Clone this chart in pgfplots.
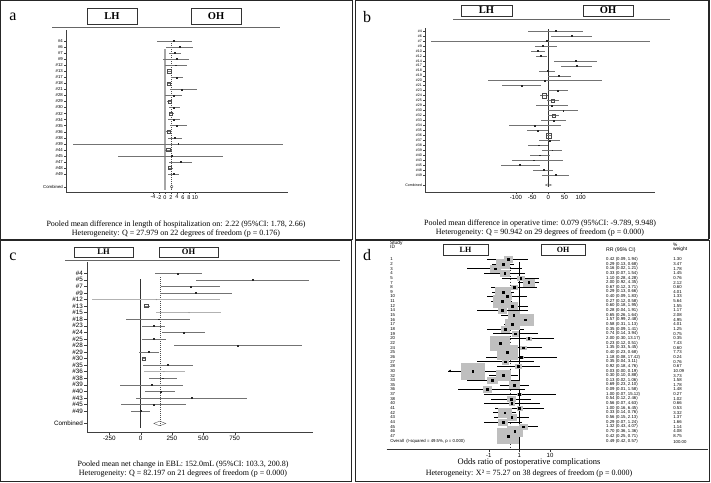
\documentclass[border=0pt]{standalone}
\usepackage{pgfplots}
\pgfplotsset{compat=1.18}
\usepackage{pgfplotstable}
\usepackage{fontspec}
\setmainfont{Liberation Serif}
\newfontfamily\lsans{Liberation Sans}
\usetikzlibrary{arrows.meta}
\newcommand\fs[1]{\fontsize{#1}{#1}\selectfont}

% ---------- panel a: length of hospitalization ----------
\pgfplotstableread{
i lo m hi t
0 -2.8 2.8 8.9 p
1 0.3 5.0 9.2 p
2 1.4 3.2 5.3 p
3 -0.6 3.9 8.1 p
4 0.1 3.7 7.2 p
5 0.6 1.4 2.3 s
6 1.9 3.9 5.9 p
7 0.6 1.2 2.1 s
8 1.7 5.7 10.6 p
9 0.1 2.8 5.6 p
10 0.8 1.6 2.3 s
11 1.4 3.0 5.0 p
12 1.2 2.0 3.0 s
13 1.1 2.8 5.0 p
14 1.7 3.9 7.2 p
15 0.3 1.3 2.3 s
16 1.1 3.3 5.6 p
17 -30.6 4.4 39.2 p
18 0.1 1.1 2.3 s
19 -15.6 2.2 19.4 p
20 1.4 5.3 8.9 p
21 1.1 1.7 2.8 s
22 1.1 2.8 4.8 p
}\taba

% ---------- panel b: operative time ----------
\pgfplotstableread{
i lo m hi t
0 -62 24 108 p
1 8 72 136 p
2 -363 -5 314 p
3 -41 -18 26 p
4 -54 -32 -10 p
5 -39 -23 -5 p
6 19 85 149 p
7 39 88 136 p
8 -28 -3 21 p
9 0 33 70 p
10 -186 -10 165 p
11 -142 -82 -24 p
12 0 30 60 p
13 -26 -13 -2 S
14 -5 14 33 s
15 -38 11 60 p
16 0 46 91 p
17 0 16 33 s
18 -23 16 54 p
19 -122 -41 38 p
20 -67 -33 0 p
21 -5 2 10 S
22 -28 3 36 p
23 -64 -31 0 p
24 -19 12 41 p
25 -57 -26 5 p
26 -113 -46 46 p
27 -147 -88 -26 p
28 -46 -15 15 p
29 -21 22 64 p
}\tabb

% ---------- panel c: EBL ----------
\pgfplotstableread{
i lo m hi t
0 112 298 489 p
1 444 896 1343 p
2 160 396 636 p
3 152 436 729 p
5 24 45 77 s
7 -114 141 396 p
8 13 104 197 p
9 173 340 511 p
10 11 104 200 p
11 263 777 1287 p
12 -13 64 146 p
13 8 24 40 s
14 19 218 418 p
16 66 178 290 p
17 -162 88 338 p
18 37 157 277 p
19 -40 404 849 p
20 -154 104 364 p
21 -74 0 77 p
}\tabc
\pgfplotstableread{
i lo m hi
4 -386 125 630
6 125 386 644
15 24 186 356
}\tabcl

% ---------- panel d: postoperative complications (RR, lo, hi) ----------
\pgfplotstableread[col sep=semicolon]{
i;lo;m;hi;w;id;rr;wt
0;0.09;0.42;1.94;1.30;1;0.42 (0.09, 1.94);1.30
1;0.13;0.29;0.68;3.47;2;0.29 (0.13, 0.68);3.47
2;0.02;0.16;1.21;1.78;3;0.16 (0.02, 1.21);1.78
3;0.07;0.33;1.54;1.45;4;0.33 (0.07, 1.54);1.45
4;0.28;1.10;4.28;0.76;5;1.10 (0.28, 4.28);0.76
5;0.92;2.00;4.35;2.12;7;2.00 (0.92, 4.35);2.12
6;0.12;0.67;3.71;0.60;8;0.67 (0.12, 3.71);0.60
7;0.13;0.29;0.66;4.01;9;0.29 (0.13, 0.66);4.01
8;0.09;0.40;1.83;1.33;10;0.40 (0.09, 1.83);1.33
9;0.12;0.27;0.58;5.64;11;0.27 (0.12, 0.58);5.64
10;0.18;0.60;1.95;1.55;12;0.60 (0.18, 1.95);1.55
11;0.04;0.28;1.91;1.17;14;0.28 (0.04, 1.91);1.17
12;0.26;0.65;1.64;2.08;15;0.65 (0.26, 1.64);2.08
13;0.99;1.57;2.48;4.95;16;1.57 (0.99, 2.48);4.95
14;0.31;0.58;1.13;4.01;17;0.58 (0.31, 1.13);4.01
15;0.09;0.35;1.41;1.25;18;0.35 (0.09, 1.41);1.25
16;0.14;0.74;3.94;0.75;19;0.74 (0.14, 3.94);0.75
17;0.30;2.00;13.17;0.35;20;2.00 (0.30, 13.17);0.35
18;0.12;0.23;0.51;7.43;22;0.23 (0.12, 0.51);7.43
19;0.33;1.35;5.45;0.60;24;1.35 (0.33, 5.45);0.60
20;0.23;0.40;0.68;7.73;25;0.40 (0.23, 0.68);7.73
21;0.08;1.18;17.42;0.24;26;1.18 (0.08, 17.42);0.24
22;0.04;0.35;3.11;0.76;27;0.35 (0.04, 3.11);0.76
23;0.18;0.92;4.76;0.67;28;0.92 (0.18, 4.76);0.67
24;0.0048;0.03;0.19;10.09;30;0.03 (0.00, 0.19);10.09
25;0.10;0.30;0.88;3.73;32;0.30 (0.10, 0.88);3.73
26;0.02;0.13;1.06;1.58;33;0.13 (0.02, 1.06);1.58
27;0.23;0.69;2.10;1.78;35;0.69 (0.23, 2.10);1.78
28;0.01;0.09;1.58;1.48;36;0.09 (0.01, 1.58);1.48
29;0.07;1.00;15.12;0.27;37;1.00 (0.07, 15.12);0.27
30;0.12;0.54;2.46;1.02;38;0.54 (0.12, 2.46);1.02
31;0.07;0.56;4.63;0.66;40;0.56 (0.07, 4.63);0.66
32;0.16;1.00;6.45;0.53;41;1.00 (0.16, 6.45);0.53
33;0.14;0.33;0.76;3.32;42;0.33 (0.14, 0.76);3.32
34;0.15;0.56;2.13;1.37;43;0.56 (0.15, 2.13);1.37
35;0.07;0.29;1.24;1.66;44;0.29 (0.07, 1.24);1.66
36;0.43;1.32;4.07;1.14;45;1.32 (0.43, 4.07);1.14
37;0.36;0.70;1.36;4.08;46;0.70 (0.36, 1.36);4.08
38;0.25;0.42;0.71;8.75;47;0.42 (0.25, 0.71);8.75
}\tabd

\pgfplotsset{
  forest/.style={scale only axis, anchor=south west, axis lines*=left,
    axis line style={black!75, line width=0.4pt},
    tick style={black!75, line width=0.3pt}, tick align=outside,
    major tick length=2pt, clip=false,
    every tick label/.append style={inner sep=1pt}},
  ci/.style={scatter, only marks, scatter src=explicit symbolic,
    scatter/classes={p={mark=square*, mark size=0.45pt, black!85},
                     s={mark=square, mark size=1.6pt, black!70},
                     S={mark=square, mark size=2.4pt, black!70}},
    error bars/.cd, x dir=both, x explicit, error mark=none,
    error bar style={black!55, line width=0.35pt}},
  dtext/.style={only marks, mark=none, nodes near coords, point meta=explicit symbolic,
    nodes near coords style={anchor=west, font=\lsans\fs{4.3}, inner sep=0pt}},
}

\begin{document}
\begin{tikzpicture}
% ---------- frames ----------
\draw[black!85, line width=0.7pt] (0.5pt,243pt) rectangle (352.5pt,481.5pt);
\draw[black!85, line width=0.7pt] (355.5pt,243pt) rectangle (708.5pt,481.5pt);
\draw[black!85, line width=1.8pt] (709pt,243pt) -- (709pt,481.5pt);
\draw[black!85, line width=0.7pt] (0.5pt,0.5pt) rectangle (351.5pt,241.5pt);
\draw[black!85, line width=0.7pt] (355.5pt,0.5pt) rectangle (709.5pt,241.5pt);
\draw[black!85, line width=1.8pt] (709.5pt,0.5pt) -- (709.5pt,241.5pt);

% ---------- panel a ----------
\node[font=\fs{16}] at (13pt,465pt) {a};
\draw[black!80, line width=0.7pt] (87pt,458pt) rectangle (137pt,474pt);
\draw[black!80, line width=0.7pt] (191pt,458pt) rectangle (241pt,474pt);
\node[font=\bfseries\fs{10.5}] at (112pt,466pt) {LH};
\node[font=\bfseries\fs{10.5}] at (216pt,466pt) {OH};
\draw[black!60, line width=0.8pt] (52pt,455pt) -- (280pt,455pt);
\begin{axis}[forest, at={(66pt,290pt)}, width=222pt, height=162pt,
  xmin=-33, xmax=41, ymin=-24.98, ymax=1.82,
  xtick={-4,-2,0,2,4,6,8,10}, xticklabels={-4,-2,0,2,4,6,8,10},
  xticklabel style={font=\lsans\fs{5.5}},
  ytick={0,-1,-2,-3,-4,-5,-6,-7,-8,-9,-10,-11,-12,-13,-14,-15,-16,-17,-18,-19,-20,-21,-22,-24.1},
  yticklabels={\#4,\#6,\#7,\#9,\#12,\#13,\#17,\#18,\#21,\#28,\#29,\#30,\#32,\#34,\#35,\#36,\#38,\#39,\#44,\#45,\#47,\#48,\#49,Combined},
  yticklabel style={font=\lsans\fs{4.3}}]
\addplot[black!35, line width=1.6pt] coordinates {(0,-1.3) (0,-24.6)};
\addplot[black!70, line width=0.4pt, dash pattern=on 1pt off 1pt] coordinates {(2.22,-0.4) (2.22,-24.6)};
\addplot[ci] table[x=m, y expr=-\thisrow{i}, meta=t,
  x error minus expr=\thisrow{m}-\thisrow{lo}, x error plus expr=\thisrow{hi}-\thisrow{m}] {\taba};
\addplot[black!70, line width=0.35pt] coordinates {(1.78,-24.1) (2.22,-23.8) (2.66,-24.1) (2.22,-24.4) (1.78,-24.1)};
\end{axis}
\node[font=\fs{8}] at (176pt,257pt) {Pooled mean difference in length of hospitalization on: 2.22 (95\%CI: 1.78, 2.66)};
\node[font=\fs{8}] at (176pt,248.5pt) {Heterogeneity: Q = 27.979 on 22 degrees of freedom (p = 0.176)};

% ---------- panel b ----------
\node[font=\fs{16}] at (367pt,465pt) {b};
\draw[black!80, line width=0.7pt] (461pt,466pt) rectangle (512pt,477pt);
\draw[black!80, line width=0.7pt] (583pt,466pt) rectangle (633pt,477pt);
\node[font=\bfseries\fs{10.5}] at (486.5pt,471.5pt) {LH};
\node[font=\bfseries\fs{10.5}] at (608pt,471.5pt) {OH};
\draw[black!60, line width=0.8pt] (453pt,462.7pt) -- (670pt,462.7pt);
\begin{axis}[forest, at={(425pt,290pt)}, width=230pt, height=164pt,
  xmin=-381.4, xmax=329.9, ymin=-32.41, ymax=0.6,
  xtick={-100,-50,0,50,100}, xticklabels={-100,-50,0,50,100},
  xticklabel style={font=\lsans\fs{6}},
  ytick={0,-1,-2,-3,-4,-5,-6,-7,-8,-9,-10,-11,-12,-13,-14,-15,-16,-17,-18,-19,-20,-21,-22,-23,-24,-25,-26,-27,-28,-29,-31},
  yticklabels={\#4,\#6,\#7,\#9,\#10,\#12,\#14,\#17,\#18,\#19,\#20,\#21,\#23,\#24,\#25,\#29,\#30,\#32,\#33,\#34,\#35,\#36,\#37,\#38,\#39,\#40,\#43,\#45,\#48,\#49,Combined},
  yticklabel style={font=\lsans\fs{3.6}}]
\addplot[black!80, line width=0.4pt] coordinates {(0,0.3) (0,-31.4)};
\addplot[ci] table[x=m, y expr=-\thisrow{i}, meta=t,
  x error minus expr=\thisrow{m}-\thisrow{lo}, x error plus expr=\thisrow{hi}-\thisrow{m}] {\tabb};
\addplot[black!70, line width=0.35pt] coordinates {(-9.789,-31) (0.079,-30.75) (9.948,-31) (0.079,-31.25) (-9.789,-31)};
\end{axis}
\node[font=\fs{8}] at (540pt,258pt) {Pooled mean difference in operative time: 0.079 (95\%CI: -9.789, 9.948)};
\node[font=\fs{8}] at (540pt,249pt) {Heterogeneity: Q = 90.942 on 29 degrees of freedom (p = 0.000)};

% ---------- panel c ----------
\node[font=\fs{16}] at (13pt,225pt) {c};
\draw[black!80, line width=0.7pt] (74pt,225pt) rectangle (133pt,235pt);
\draw[black!80, line width=0.7pt] (159pt,225pt) rectangle (218pt,235pt);
\node[font=\bfseries\fs{8.5}] at (103.5pt,230pt) {LH};
\node[font=\bfseries\fs{8.5}] at (188.5pt,230pt) {OH};
\draw[black!60, line width=0.8pt] (65pt,221.3pt) -- (340pt,221.3pt);
\begin{axis}[forest, at={(87pt,50.3pt)}, width=226pt, height=170pt,
  xmin=-428, xmax=1375, ymin=-24.16, ymax=1.77,
  xtick={-250,0,250,500,750}, xticklabels={-250,0,250,500,750},
  xticklabel style={font=\lsans\fs{6.3}},
  ytick={0,-1,-2,-3,-4,-5,-6,-7,-8,-9,-10,-11,-12,-13,-14,-15,-16,-17,-18,-19,-20,-21,-22.9},
  yticklabels={\#4,\#5,\#7,\#9,\#12,\#13,\#15,\#18,\#23,\#24,\#25,\#28,\#29,\#30,\#35,\#36,\#38,\#39,\#40,\#43,\#45,\#49,Combined},
  yticklabel style={font=\lsans\fs{6.3}}, major tick length=3pt]
\addplot[black!80, line width=0.45pt] coordinates {(0,-0.9) (0,-23.6)};
\addplot[black!70, line width=0.4pt, dash pattern=on 1pt off 1pt] coordinates {(152,-0.6) (152,-23.4)};
\addplot[ci] table[x=m, y expr=-\thisrow{i}, meta=t,
  x error minus expr=\thisrow{m}-\thisrow{lo}, x error plus expr=\thisrow{hi}-\thisrow{m}] {\tabc};
\addplot[only marks, mark=*, mark size=0.3pt, black!45,
  error bars/.cd, x dir=both, x explicit, error mark=none,
  error bar style={black!30, line width=0.5pt}]
  table[x=m, y expr=-\thisrow{i},
  x error minus expr=\thisrow{m}-\thisrow{lo}, x error plus expr=\thisrow{hi}-\thisrow{m}] {\tabcl};
\addplot[black!70, line width=0.35pt] coordinates {(103.3,-22.9) (152,-22.55) (200.8,-22.9) (152,-23.25) (103.3,-22.9)};
\end{axis}
\node[font=\fs{8}] at (183pt,17pt) {Pooled mean net change in EBL: 152.0mL (95\%CI: 103.3, 200.8)};
\node[font=\fs{8}] at (183pt,8pt) {Heterogeneity: Q = 82.197 on 21 degrees of freedom (p = 0.000)};

% ---------- panel d (x axis in log10 of the risk ratio) ----------
\node[font=\fs{16}] at (367pt,227pt) {d};
\draw[black!80, line width=0.7pt] (443pt,227pt) rectangle (488pt,238pt);
\draw[black!80, line width=0.7pt] (541pt,227pt) rectangle (585pt,238pt);
\node[font=\bfseries\fs{8}] at (465.5pt,232.5pt) {LH};
\node[font=\bfseries\fs{8}] at (563pt,232.5pt) {OH};
\node[anchor=north west, font=\lsans\fs{4.8}, align=left, inner sep=0pt] at (390pt,241pt) {Study\\[-0.5pt]ID};
\node[anchor=west, font=\lsans\fs{5.2}, inner sep=0pt] at (606pt,232pt) {RR (95\% CI)};
\node[anchor=north west, font=\lsans\fs{4.8}, align=left, inner sep=0pt] at (673pt,239.5pt) {\%\\[-0.5pt]weight};
\begin{axis}[scale only axis, anchor=south west, at={(386.7pt,32.7pt)}, width=321pt, height=194.3pt,
  xmin=-4.326, xmax=6.141, ymin=-40.86, ymax=0.93,
  axis x line*=bottom, axis y line=none,
  axis line style={black!80, line width=0.5pt},
  xtick={-1,0,1}, xticklabels={-1,1,10},
  tick align=outside, major tick length=2.5pt, tick style={black!80, line width=0.4pt},
  xticklabel style={font=\lsans\fs{6}, inner sep=1pt}, clip=false]
\addplot[scatter, only marks, mark=square*,
  scatter/use mapped color={draw=black!25, fill=black!25},
  visualization depends on={3.6*sqrt(\thisrow{w}) \as \bs},
  scatter/@pre marker code/.append style={/tikz/mark size=\bs},
  every mark/.append style={yscale=0.7}]
  table[x expr=log10(\thisrow{m}), y expr=-\thisrow{i}] {\tabd};
\addplot[black, line width=0.6pt] coordinates {(0,-0.6) (0,-40.86)};
\addplot[black!80, line width=0.5pt, dash pattern=on 1.5pt off 1.5pt]
  table[x expr=log10(\thisrow{x}), y=y, row sep=\\] {x y\\ 0.49 -0.3\\ 0.49 -40.86\\};
\addplot[only marks, mark=square*, mark size=0.9pt, black,
  error bars/.cd, x dir=both, x explicit, error mark=none,
  error bar style={black, line width=0.6pt}]
  table[x expr=log10(\thisrow{m}), y expr=-\thisrow{i},
  x error minus expr=log10(\thisrow{m})-log10(\thisrow{lo}),
  x error plus expr=log10(\thisrow{hi})-log10(\thisrow{m})] {\tabd};
\addplot[black, line width=0.6pt, -{Latex[length=2.6pt,width=2.6pt]}]
  table[x expr=log10(\thisrow{x}), y=y, row sep=\\] {x y\\ 0.03 -24\\ 0.0048 -24\\};
\addplot[black, line width=0.8pt]
  table[x expr=log10(\thisrow{x}), y=y, row sep=\\] {x y\\ 0.42 -39.22\\ 0.49 -38.85\\ 0.57 -39.22\\ 0.49 -39.59\\ 0.42 -39.22\\};
\addplot[dtext] table[x expr=-4.217, y expr=-\thisrow{i}, meta=id] {\tabd};
\addplot[dtext] table[x expr=2.826, y expr=-\thisrow{i}, meta=rr] {\tabd};
\addplot[dtext] table[x expr=5.013, y expr=-\thisrow{i}, meta=wt] {\tabd};
\node[anchor=west, font=\lsans\fs{4.3}, inner sep=0pt] at (axis cs:-4.217,-39.22) {Overall\ \ (I-squared = 49.5\%, p = 0.000)};
\node[anchor=west, font=\lsans\fs{4.3}, inner sep=0pt] at (axis cs:2.826,-39.22) {0.49 (0.42, 0.57)};
\node[anchor=west, font=\lsans\fs{4.3}, inner sep=0pt] at (axis cs:5.013,-39.22) {100.00};
\end{axis}
\node[font=\fs{8.5}] at (529pt,20pt) {Odds ratio of postoperative complications};
\node[font=\fs{8}] at (529pt,8.5pt) {Heterogeneity: X² = 75.27 on 38 degrees of freedom (p = 0.000)};

\pgfresetboundingbox
\useasboundingbox (0,0) rectangle (711pt,482pt);
\end{tikzpicture}
\end{document}
